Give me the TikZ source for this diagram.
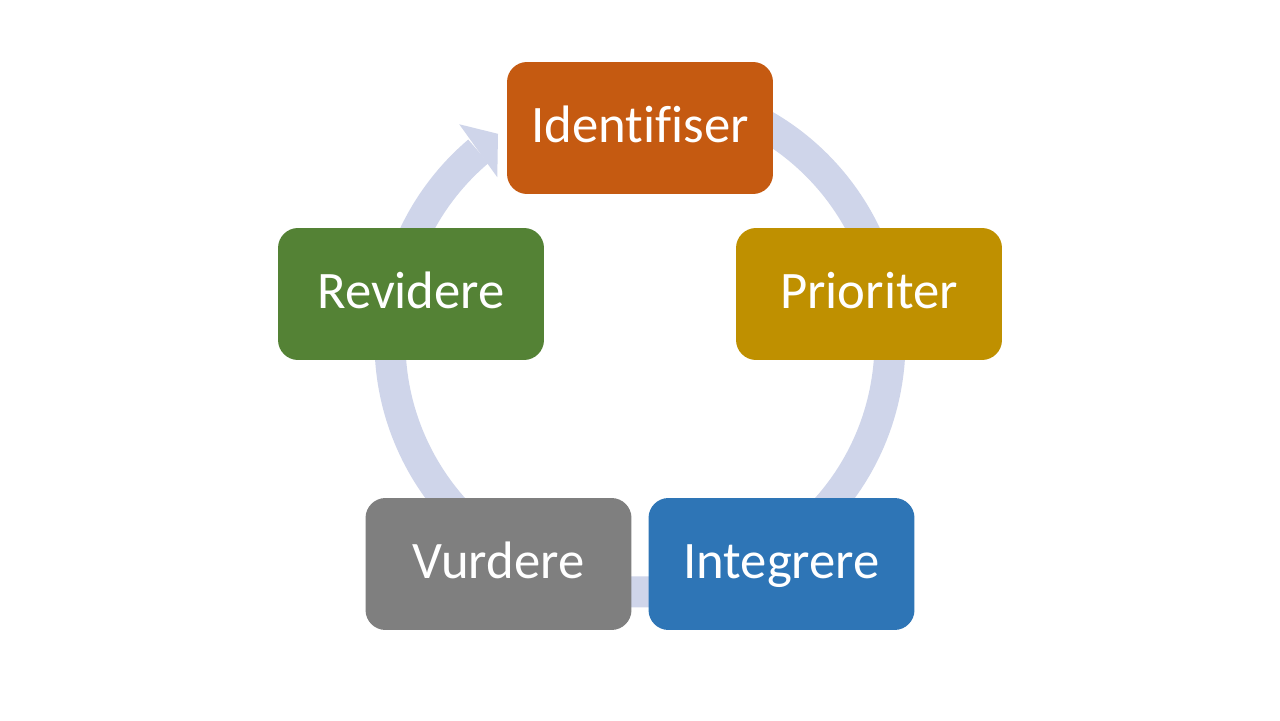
\documentclass[tikz,border=0pt]{standalone}
\usepackage{fontspec}
\setmainfont[Ligatures=NoCommon]{Carlito}
\definecolor{ringc}{HTML}{CFD5EA}
\definecolor{cI}{HTML}{C55A11}
\definecolor{cP}{HTML}{BF9000}
\definecolor{cIn}{HTML}{2E75B6}
\definecolor{cV}{HTML}{7F7F7F}
\definecolor{cR}{HTML}{548235}
\begin{document}
\begin{tikzpicture}[x=0.02cm,y=0.02cm,
  stepbox/.style={draw=none, rounded corners=0.4cm, minimum width=5.32cm, minimum height=2.64cm,
    inner sep=0pt, text=white, font=\fontsize{30}{36}\selectfont,
    text height=16.5pt, text depth=0pt},
  ringline/.style={draw=ringc, line width=0.62cm}]
\useasboundingbox (0,0) rectangle (1280,720);
\fill[white] (0,0) rectangle (1280,720);
\coordinate (c) at (640,378);
\draw[ringline] ([shift={(80:250)}]c) arc[start angle=80, end angle=-229.7, radius=5cm];
\fill[ringc] ([shift={(130.9:218)}]c) -- ([shift={(124.3:252)}]c) -- ([shift={(129.7:283)}]c) -- cycle;
\node[stepbox, fill=cI] (id) at (640,592) {Identifiser};
\node[stepbox, fill=cP] (pr) at (869,426) {Prioriter};
\node[stepbox, fill=cIn] (in) at (781.5,156) {Integrere};
\node[stepbox, fill=cV] (vu) at (498.5,156) {Vurdere};
\node[stepbox, fill=cR] (re) at (411,426) {Revidere};
\end{tikzpicture}
\end{document}
